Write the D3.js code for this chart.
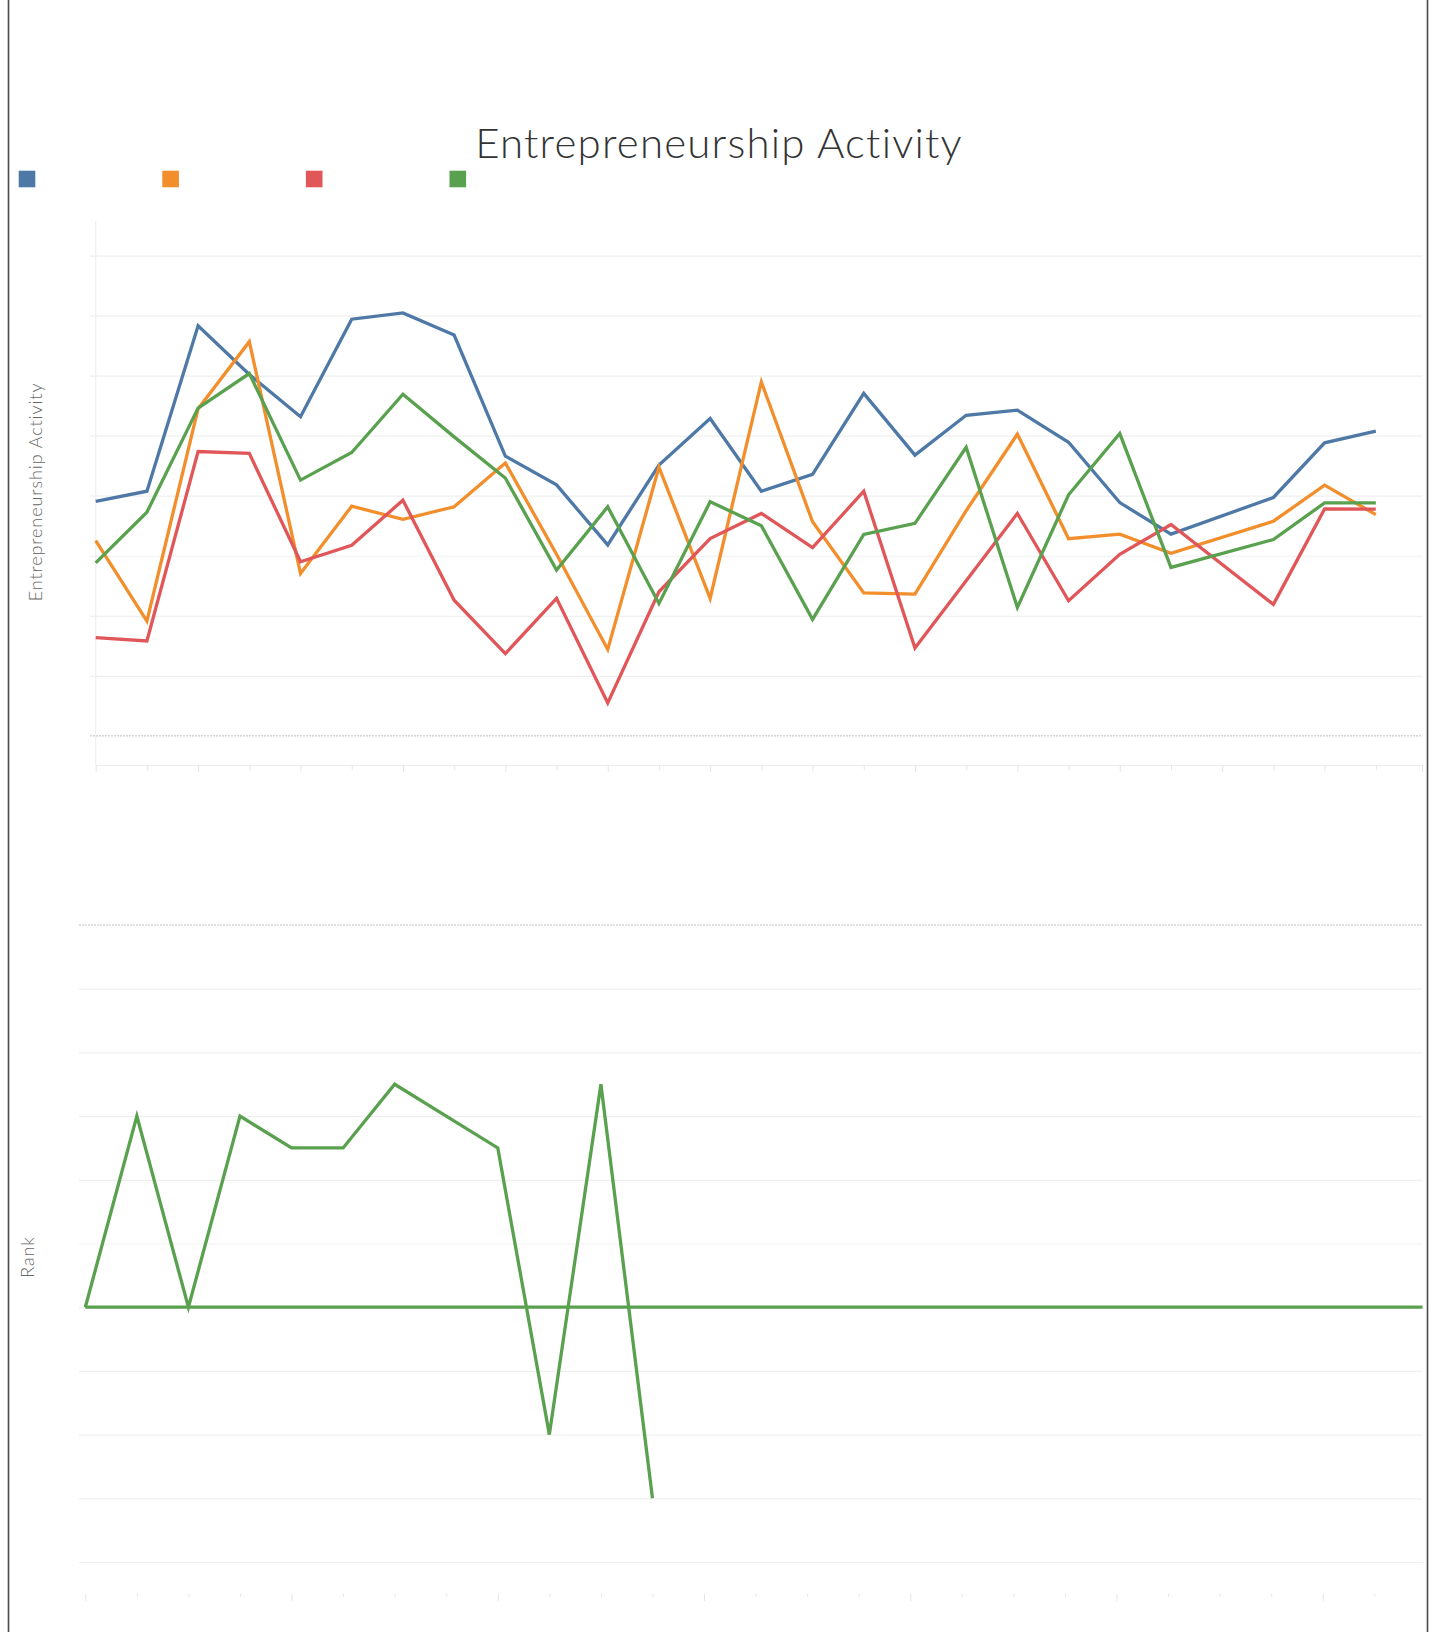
<!DOCTYPE html>
<html>
<head>
<meta charset="utf-8">
<script src="https://cdn.jsdelivr.net/npm/d3@7"></script>
<style>
  body { margin: 0; background: #fff; }
  svg { display: block; font-family: Lato, "Open Sans", sans-serif; }
</style>
</head>
<body>
<svg id="chart" width="1437" height="1632"></svg>
<script>
// years on the x axis (last one only extends the axis)
var years = [1990,1991,1992,1993,1994,1995,1996,1997,1998,1999,2000,2001,2002,2003,2004,2005,2006,2007,2008,2009,2010,2011,2012,2013,2014,2015,2016];

// entrepreneurship activity, one array per series (null = no value that year)
var seriesNames = ["Series A","Series B","Series C","Series D"];
var seriesColors = ["#4e79a7","#f28e2b","#e15759","#59a14f"];
var blueValues   = [7.81,8.15,13.66,12.04,10.63,13.88,14.09,13.35,9.32,8.36,6.36,9.02,10.57,8.15,8.71,11.41,9.35,10.68,10.85,9.78,7.77,6.72,null,7.94,9.76,10.15];
var orangeValues = [6.50,3.82,10.90,13.13,5.41,7.65,7.21,7.63,9.09,6.05,2.88,8.95,4.58,11.79,7.13,4.76,4.72,7.50,10.05,6.57,6.72,6.08,null,7.15,8.35,7.37];
var redValues    = [3.27,3.16,9.47,9.41,5.80,6.35,7.85,4.52,2.74,4.58,1.10,4.80,6.57,7.41,6.27,8.15,2.93,5.17,7.41,4.50,6.05,7.04,null,4.38,7.56,7.55];
var greenValues  = [5.76,7.45,10.92,12.07,8.52,9.44,11.38,9.96,8.59,5.52,7.63,4.41,7.80,7.00,3.88,6.71,7.08,9.61,4.28,8.03,10.07,5.61,null,6.54,7.76,7.76];
var activityTicks = [0,2,4,6,8,10,12,14,16];

// rank chart
var rankValues   = [6,3,6,3,3.5,3.5,2.5,3,3.5,8,2.5,9];
var rankBaseline = [6,6,6,6,6,6,6,6,6,6,6,6,6,6,6,6,6,6,6,6,6,6,6,6,6,6,6];
var rankTicks = [0,1,2,3,4,5,6,7,8,9,10];

var plotRight = 1422.5;
var svg = d3.select("#chart");

// outer border lines
svg.append("line").attr("x1",8.5).attr("x2",8.5).attr("y1",0).attr("y2",1632)
  .style("stroke","#4a4a4a").style("stroke-width",1.6);
svg.append("line").attr("x1",1427.5).attr("x2",1427.5).attr("y1",0).attr("y2",1632)
  .style("stroke","#4a4a4a").style("stroke-width",1.6);

// title
svg.append("text")
  .attr("x",719).attr("y",158)
  .attr("text-anchor","middle")
  .style("font-size","42px").style("font-weight",300)
  .style("letter-spacing","1.2px")
  .style("fill","#333")
  .text("Entrepreneurship Activity");

// legend squares
var legendX = d3.scalePoint().domain(seriesNames).range([18.7,449.5]);
svg.selectAll(".legend").data(seriesNames).enter().append("rect")
  .attr("class","legend")
  .attr("x",function(d){ return legendX(d); })
  .attr("y",170.7)
  .attr("width",16.6).attr("height",16.6)
  .style("fill",function(d,i){ return seriesColors[i]; });

function styleGrid(g){
  g.select(".domain").remove();
  g.selectAll(".tick text").remove();
}

// ---------- top chart ----------
var x = d3.scaleLinear().domain([1990,2016]).range([95.7,1427]);
var y = d3.scaleLinear().domain([-0.97,17.15]).range([765,221]);

var gridTop = svg.append("g").attr("transform","translate(90,0)")
  .call(d3.axisLeft(y).tickValues(activityTicks.slice(1)).tickSize(-(plotRight-90)).tickFormat(""));
styleGrid(gridTop);
gridTop.selectAll(".tick line").style("stroke","#efefef").style("stroke-width",1.2);

svg.append("line").attr("x1",90).attr("x2",plotRight).attr("y1",y(0)).attr("y2",y(0))
  .style("stroke","#bdbdbd").style("stroke-width",1).style("stroke-dasharray","2,1");

svg.append("line").attr("x1",x(1990)).attr("x2",x(1990)).attr("y1",221).attr("y2",765)
  .style("stroke","#efefef").style("stroke-width",1.2);

var xAxisTop = svg.append("g").attr("transform","translate(0,765)")
  .call(d3.axisBottom(x).tickValues(years.slice(0,26)).tickFormat("").tickSizeOuter(0));
xAxisTop.select(".domain").attr("d","M95.7,0.5H" + plotRight)
  .style("stroke","#ebebeb").style("stroke-width",1.2);
xAxisTop.selectAll(".tick line")
  .attr("y2",function(d){ return (d-1990)%2===0 ? 7 : 5; })
  .style("stroke","#e6e6e6");
xAxisTop.append("line").attr("x1",plotRight).attr("x2",plotRight).attr("y1",0).attr("y2",7)
  .style("stroke","#e6e6e6");

var line = d3.line()
  .x(function(d){ return x(d.year); })
  .y(function(d){ return y(d.value); });

var allSeries = [blueValues,orangeValues,redValues,greenValues].map(function(vals,i){
  return {
    name: seriesNames[i],
    color: seriesColors[i],
    points: vals.map(function(v,j){ return {year: years[j], value: v}; })
                .filter(function(p){ return p.value !== null; })
  };
});

svg.selectAll(".series").data(allSeries).enter().append("path")
  .attr("class","series")
  .attr("d",function(d){ return line(d.points); })
  .style("fill","none")
  .style("stroke",function(d){ return d.color; })
  .style("stroke-width",3.3)
  .style("stroke-linejoin","miter");

svg.append("text")
  .attr("transform","translate(42,492)rotate(-90)")
  .attr("text-anchor","middle")
  .style("font-size","18px").style("font-weight",300)
  .style("letter-spacing","0.9px")
  .style("fill","#666")
  .text("Entrepreneurship Activity");

// ---------- rank chart ----------
var x2 = d3.scaleLinear().domain([1990,2016]).range([85.3,1425.9]);
var y2 = d3.scaleLinear().domain([0,10]).range([925,1562]);

svg.append("clipPath").attr("id","rankClip")
  .append("rect").attr("x",79).attr("y",860).attr("width",plotRight-79).attr("height",720);

var gridRank = svg.append("g").attr("transform","translate(79,0)")
  .call(d3.axisLeft(y2).tickValues(rankTicks.slice(1)).tickSize(-(plotRight-79)).tickFormat(""));
styleGrid(gridRank);
gridRank.selectAll(".tick line").style("stroke","#efefef").style("stroke-width",1.2);

svg.append("line").attr("x1",79).attr("x2",plotRight).attr("y1",y2(0)).attr("y2",y2(0))
  .style("stroke","#bdbdbd").style("stroke-width",1).style("stroke-dasharray","2,1");

var xAxisRank = svg.append("g").attr("transform","translate(0,1594)")
  .call(d3.axisBottom(x2).tickValues(years.slice(0,26)).tickFormat("").tickSizeOuter(0));
xAxisRank.select(".domain").remove();
xAxisRank.selectAll(".tick line")
  .attr("y2",function(d){ return (d-1990)%4===0 ? 7 : 3; })
  .style("stroke","#e6e6e6");

var line2 = d3.line()
  .x(function(d){ return x2(d.year); })
  .y(function(d){ return y2(d.value); });

var rankSeries = [rankBaseline, rankValues].map(function(vals){
  return vals.map(function(v,j){ return {year: years[j], value: v}; });
});

svg.append("g").attr("clip-path","url(#rankClip)")
  .selectAll(".rank").data(rankSeries).enter().append("path")
  .attr("class","rank")
  .attr("d",function(d){ return line2(d); })
  .style("fill","none")
  .style("stroke","#59a14f")
  .style("stroke-width",3.3)
  .style("stroke-linejoin","miter");

svg.append("text")
  .attr("transform","translate(34,1257)rotate(-90)")
  .attr("text-anchor","middle")
  .style("font-size","18px").style("font-weight",300)
  .style("letter-spacing","0.9px")
  .style("fill","#666")
  .text("Rank");
</script>
</body>
</html>
